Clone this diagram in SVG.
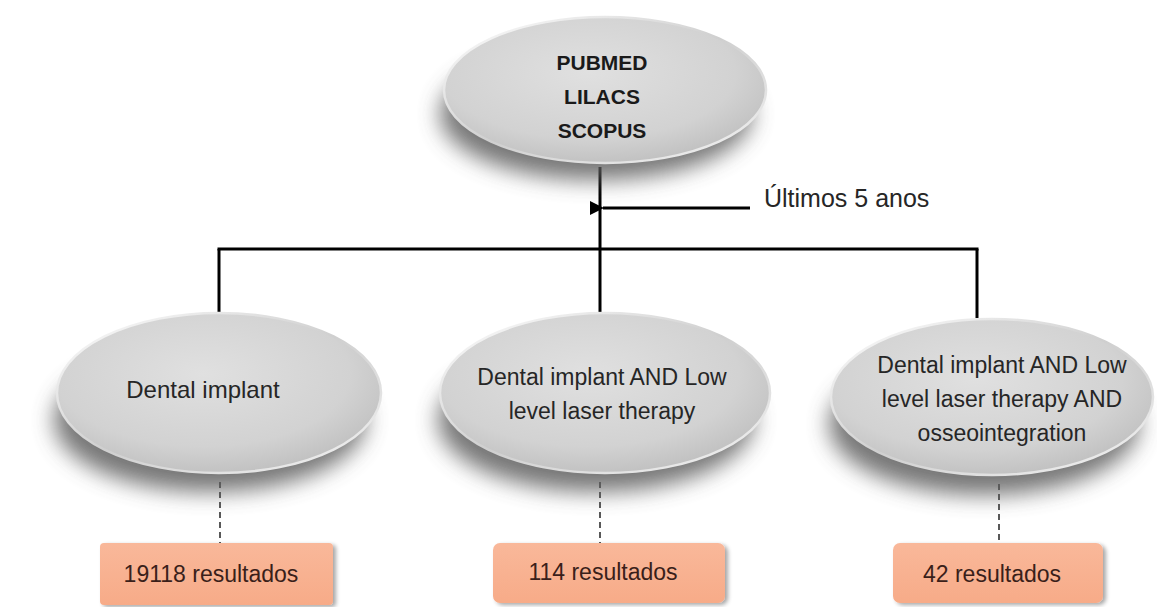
<svg xmlns="http://www.w3.org/2000/svg" width="1157" height="607" viewBox="0 0 1157 607">
  <style>
    .ell { fill: url(#ellGrad); stroke: url(#rimGrad); stroke-width: 2.5; }
    .shadow { fill: #5e5e5e; opacity: 0.85; filter: url(#blur); }
    .t { font-family: "Liberation Sans", Arial, sans-serif; fill: #262626; text-anchor: middle; }
    .tb { font-family: "Liberation Sans", Arial, sans-serif; fill: #1a1a1a; font-weight: bold; font-size: 21px; text-anchor: middle; }
    .box { fill: url(#boxGrad); filter: url(#boxShadow); }
    .bt { font-family: "Liberation Sans", Arial, sans-serif; fill: #3a1f1a; font-size: 23px; text-anchor: middle; }
    .conn { stroke: #000; stroke-width: 3; fill: none; }
    .dash { stroke: #222; stroke-width: 1.5; stroke-dasharray: 6 4; fill: none; }
  </style>
  <defs>
    <radialGradient id="ellGrad" cx="0.45" cy="0.38" r="0.65">
      <stop offset="0" stop-color="#e0e0e0"/>
      <stop offset="0.7" stop-color="#d2d2d2"/>
      <stop offset="1" stop-color="#bfbfbf"/>
    </radialGradient>
    <linearGradient id="rimGrad" x1="0" y1="0" x2="1" y2="1">
      <stop offset="0" stop-color="#ffffff"/>
      <stop offset="0.5" stop-color="#cfcfcf"/>
      <stop offset="1" stop-color="#f4f4f4"/>
    </linearGradient>
    <linearGradient id="boxGrad" x1="0" y1="0" x2="0" y2="1">
      <stop offset="0" stop-color="#f9b89a"/>
      <stop offset="1" stop-color="#f7ab88"/>
    </linearGradient>
    <filter id="blur" x="-20%" y="-30%" width="140%" height="170%">
      <feGaussianBlur stdDeviation="11"/>
    </filter>
    <filter id="boxShadow" x="-10%" y="-20%" width="125%" height="150%">
      <feGaussianBlur in="SourceAlpha" stdDeviation="2"/>
      <feOffset dx="3" dy="2" result="o"/>
      <feComponentTransfer><feFuncA type="linear" slope="0.35"/></feComponentTransfer>
      <feMerge><feMergeNode/><feMergeNode in="SourceGraphic"/></feMerge>
    </filter>
    <marker id="arrow" markerWidth="16" markerHeight="16" refX="1" refY="7" orient="auto" markerUnits="userSpaceOnUse">
      <path d="M14,0 L0,7 L14,14 Z" fill="#000"/>
    </marker>
  </defs>

  <rect width="1157" height="607" fill="#ffffff"/>

  <g id="connectors">
    <line class="conn" x1="600" y1="167" x2="600" y2="312"/>
    <line class="conn" x1="217.5" y1="249" x2="978.5" y2="249"/>
    <line class="conn" x1="219" y1="249" x2="219" y2="313"/>
    <line class="conn" x1="977" y1="249" x2="977" y2="318"/>
    <line x1="750" y1="208" x2="603" y2="208" stroke="#000" stroke-width="3" marker-end="url(#arrow)"/>
    <line class="dash" x1="220" y1="482" x2="220" y2="543"/>
    <line class="dash" x1="600" y1="482" x2="600" y2="543"/>
    <line class="dash" x1="999" y1="484" x2="999" y2="543"/>
  </g>

  <text id="label-ultimos" class="t" x="764" y="207" font-size="25" style="text-anchor:start">Últimos 5 anos</text>

  <g id="node-databases">
    <ellipse class="shadow" cx="596" cy="114" rx="156" ry="66"/>
    <ellipse class="ell" cx="605" cy="90" rx="161" ry="73"/>
    <text class="tb" x="602" y="70">PUBMED</text>
    <text class="tb" x="602" y="104">LILACS</text>
    <text class="tb" x="602" y="138">SCOPUS</text>
  </g>

  <g id="node-dental-implant">
    <ellipse class="shadow" cx="210" cy="420" rx="156" ry="72"/>
    <ellipse class="ell" cx="219" cy="393" rx="162" ry="80"/>
    <text class="t" x="203" y="398" font-size="24">Dental implant</text>
  </g>

  <g id="node-dental-laser">
    <ellipse class="shadow" cx="596" cy="420" rx="158" ry="72"/>
    <ellipse class="ell" cx="605" cy="393" rx="165" ry="80"/>
    <text class="t" x="602" y="385" font-size="23">Dental implant AND Low</text>
    <text class="t" x="602" y="419" font-size="23">level laser therapy</text>
  </g>

  <g id="node-dental-laser-osseo">
    <ellipse class="shadow" cx="984" cy="424" rx="155" ry="71"/>
    <ellipse class="ell" cx="992" cy="397" rx="161" ry="78"/>
    <text class="t" x="1002" y="373" font-size="23">Dental implant AND Low</text>
    <text class="t" x="1002" y="407" font-size="23">level laser therapy AND</text>
    <text class="t" x="1002" y="441" font-size="23">osseointegration</text>
  </g>

  <g id="result-19118">
    <rect class="box" x="100" y="543" width="233" height="62" rx="4"/>
    <text class="bt" x="211" y="582">19118 resultados</text>
  </g>

  <g id="result-114">
    <rect class="box" x="493" y="543" width="232" height="60" rx="7"/>
    <text class="bt" x="603" y="580">114 resultados</text>
  </g>

  <g id="result-42">
    <rect class="box" x="893" y="543" width="210" height="60" rx="7"/>
    <text class="bt" x="992" y="582">42 resultados</text>
  </g>
</svg>
